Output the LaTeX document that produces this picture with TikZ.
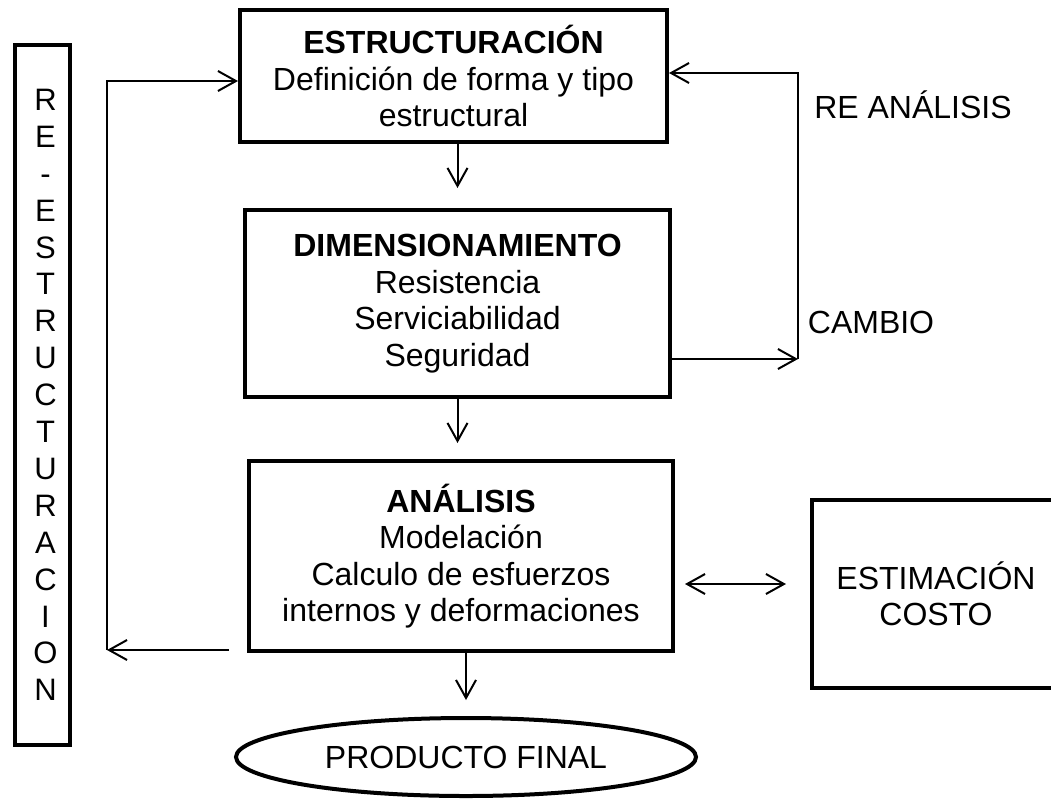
\documentclass[tikz,border=0pt]{standalone}
\usepackage{fontspec}
\setmainfont{Liberation Sans}
\usetikzlibrary{arrows.meta,shapes.geometric,calc}
\newcommand\mainfs{\fontsize{32}{36.5}\selectfont}
\newcommand\vertfs{\fontsize{31}{36.9}\selectfont}
\begin{document}
\begin{tikzpicture}[x=1pt,y=-1pt,
  box/.style={draw, line width=4pt, inner sep=0pt, align=center, font=\mainfs},
  arr/.style={line width=2pt, -{Straight Barb[length=18pt,width=20pt,line width=2pt]}},
  arrtwo/.style={line width=2pt, {Straight Barb[length=18pt,width=20pt,line width=2pt]}-{Straight Barb[length=18pt,width=20pt,line width=2pt]}},
  lbl/.style={font=\mainfs, inner sep=0pt}]
\clip (0,0) rectangle (1051,804);
\fill[white] (0,0) rectangle (1051,804);

% boxes
\node[box, minimum width=427pt, minimum height=132pt] (estr) at (453.5,76)
  {\textbf{ESTRUCTURACIÓN}\\Definición de forma y tipo\\estructural};
\node[box, minimum width=425pt, minimum height=187pt] (dim) at (457.5,303.5)
  {\textbf{DIMENSIONAMIENTO}\\Resistencia\\Serviciabilidad\\Seguridad};
\node[box, minimum width=424pt, minimum height=190pt] (anal) at (461,556)
  {\textbf{ANÁLISIS}\\Modelación\\Calculo de esfuerzos\\internos y deformaciones};
\node[box, minimum width=248pt, minimum height=188pt] (cost) at (936,594)
  {ESTIMACIÓN\\COSTO};
\node[draw, ellipse, line width=4pt, inner sep=0pt, minimum width=460pt, minimum height=78pt, font=\mainfs] (prod) at (466,757)
  {PRODUCTO FINAL};

% left vertical box
\node[draw, line width=4pt, inner sep=0pt, minimum width=55pt, minimum height=700pt] (rebox) at (42.5,395) {};
\node[align=center, inner sep=0pt, font=\vertfs] (retext) at (45.5,395)
  {R\\E\\-\\E\\S\\T\\R\\U\\C\\T\\U\\R\\A\\C\\I\\O\\N};

% labels
\node[lbl] (reanal) at (913,105) {RE ANÁLISIS};
\node[lbl] (cambio) at (871,322) {CAMBIO};

% main flow arrows
\draw[arr, shorten >=20pt] (dim.north |- estr.south) -- (dim.north);
\draw[arr, shorten >=16pt] (dim.south) -- (dim.south |- anal.north);
\draw[arr, shorten >=16pt] (anal.south -| prod.north) -- (prod.north);
\draw[arrtwo, shorten <=10pt, shorten >=24pt] ([yshift=-28pt]anal.east) -- ([yshift=-28pt]anal.east -| cost.west);

% re-analysis loop
\coordinate (c1) at (798,359);
\draw[arr] (dim.east |- c1) -- (c1);
\draw[arr] (c1) |- ([yshift=3pt]estr.east);

% re-structuring loop
\coordinate (c3) at (107,650);
\draw[arr] ([xshift=-18pt]anal.west |- c3) -- (c3);
\draw[arr] (c3) |- ([yshift=-5pt]estr.west);
\end{tikzpicture}
\end{document}
